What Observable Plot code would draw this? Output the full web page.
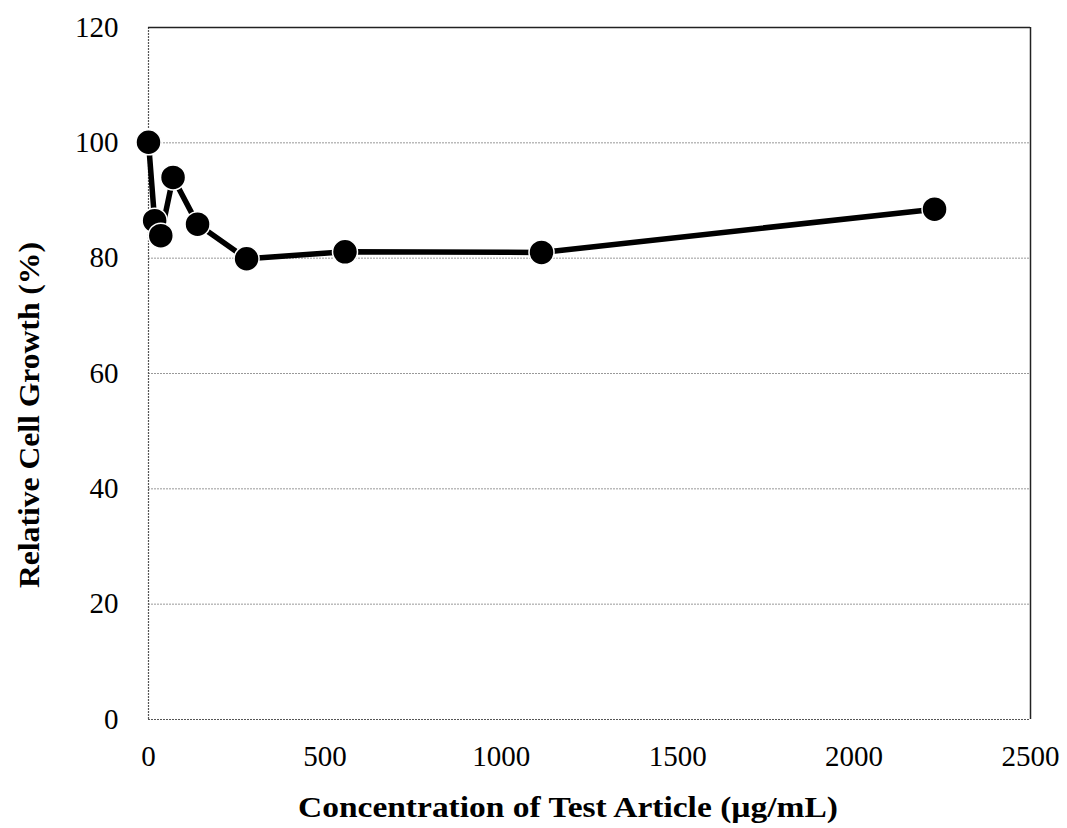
<!DOCTYPE html>
<html>
<head>
<meta charset="utf-8">
<script src="https://cdn.jsdelivr.net/npm/d3@7"></script>
<script src="https://cdn.jsdelivr.net/npm/@observablehq/plot@0.6"></script>
<style>
  html, body { margin: 0; padding: 0; background: #fff; }
  #chart svg { display: block; }
</style>
</head>
<body>
<div id="chart"></div>
<script>
const concentrations = [0, 17.4, 34.8, 69.6, 139, 278, 557, 1114, 2228];
const growth = [100.1, 86.5, 83.9, 94.0, 85.9, 79.9, 81.1, 81.0, 88.5];
const xTicks = [0, 500, 1000, 1500, 2000, 2500];
const yTicks = [0, 20, 40, 60, 80, 100, 120];
const xTitle = "Concentration of Test Article (µg/mL)";
const yTitle = "Relative Cell Growth (%)";

const data = concentrations.map((c, i) => ({x: c, y: growth[i]}));

const chart = Plot.plot({
  width: 1067,
  height: 828,
  marginLeft: 148,
  marginTop: 27,
  marginRight: 37,
  marginBottom: 109,
  style: {fontFamily: "'Liberation Serif', 'Times New Roman', serif", fontSize: "29px", color: "#000", background: "#fff"},
  x: {domain: [0, 2500], ticks: xTicks, tickSize: 0, tickPadding: 26, tickFormat: d => String(d), label: null},
  y: {domain: [0, 120], ticks: yTicks, tickSize: 0, tickPadding: 30, tickFormat: d => String(d), label: null},
  marks: [
    Plot.ruleY(yTicks.filter(d => d > 0 && d < 120), {stroke: "#999", strokeWidth: 1, strokeDasharray: "2,1"}),
    Plot.ruleX([0], {stroke: "#555", strokeWidth: 1.2, strokeDasharray: "2,1"}),
    Plot.ruleY([0], {stroke: "#555", strokeWidth: 1.2, strokeDasharray: "2,1"}),
    Plot.ruleY([120], {stroke: "#222", strokeWidth: 1.5}),
    Plot.ruleX([2500], {stroke: "#222", strokeWidth: 1.5}),
    Plot.line(data, {x: "x", y: "y", stroke: "#000", strokeWidth: 5.5, strokeLinejoin: "round"}),
    Plot.dot(data, {x: "x", y: "y", r: 12.5, fill: "#000", stroke: "#fff", strokeWidth: 1.5})
  ]
});

const svg = d3.select(chart);
svg.append("text")
  .attr("x", 568).attr("y", 817)
  .attr("text-anchor", "middle")
  .attr("font-weight", "bold")
  .attr("font-size", 29)
  .attr("textLength", 540)
  .attr("lengthAdjust", "spacingAndGlyphs")
  .attr("fill", "#000")
  .text(xTitle);
svg.append("text")
  .attr("transform", "translate(39,415) rotate(-90)")
  .attr("text-anchor", "middle")
  .attr("font-weight", "bold")
  .attr("font-size", 29)
  .attr("textLength", 346)
  .attr("lengthAdjust", "spacingAndGlyphs")
  .attr("fill", "#000")
  .text(yTitle);

document.getElementById("chart").appendChild(chart);
</script>
</body>
</html>
